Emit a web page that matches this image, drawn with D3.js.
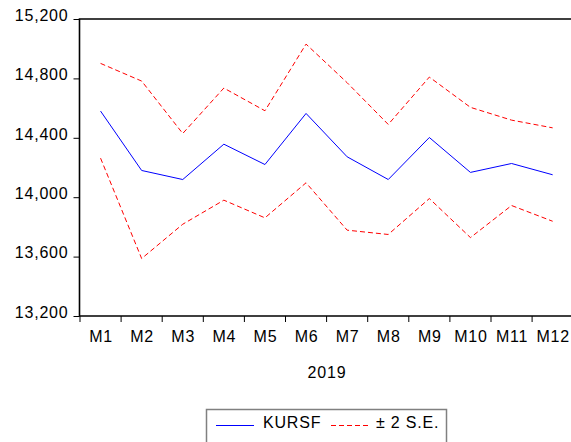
<!DOCTYPE html>
<html><head><meta charset="utf-8">
<script src="https://cdn.jsdelivr.net/npm/d3@7"></script>
<style>
html,body{margin:0;padding:0;background:#fff;}
text{font-family:"Liberation Sans",Arial,sans-serif;font-size:16px;fill:#000;letter-spacing:0.8px;}
</style></head>
<body><svg id="c" width="571" height="442"></svg>
<script>
const months = ["M1","M2","M3","M4","M5","M6","M7","M8","M9","M10","M11","M12"];
const forecast = [14580,14180,14119,14357,14220,14564,14272,14119,14402,14167,14227,14151];
const upper = [14901,14782,14429,14735,14582,15031,14771,14490,14809,14605,14519,14467];
const lower = [14263,13587,13818,13980,13861,14097,13778,13749,13991,13728,13944,13838];
const yTicks = [13200,13600,14000,14400,14800,15200];
const yearLabel = "2019";
const legendLabels = ["KURSF","± 2 S.E."];

const svg = d3.select("#c");
const L = 79.5, R = 573.5, T = 19, B = 316;
const x = d3.scaleBand().domain(months).range([80, 573.2]);
const y = d3.scaleLinear().domain([13200,15200]).range([B, T]);
const fmt = d3.format(",");

// y axis
const ya = svg.append("g").attr("transform",`translate(${L},0)`)
  .call(d3.axisLeft(y).tickValues(yTicks).tickSize(6).tickFormat(fmt));
ya.select(".domain").remove();
ya.selectAll(".tick line").attr("stroke","#000").attr("stroke-width",1);
ya.selectAll(".tick text").attr("x",-11).attr("dy","0.08em").attr("font-size",null).attr("font-family",null);
ya.attr("font-size",null).attr("font-family",null);

// x axis ticks at band boundaries
const xa = svg.append("g").attr("transform",`translate(0,${B})`);
const bounds = months.map(m => x(m));
xa.selectAll("line.t").data(bounds).enter().append("line")
  .attr("x1",d=>d).attr("x2",d=>d).attr("y1",0).attr("y2",6)
  .attr("stroke","#000").attr("stroke-width",1);
xa.selectAll("text").data(months).enter().append("text")
  .attr("x",d=>x(d)+x.bandwidth()/2+0.5).attr("y",26)
  .attr("text-anchor","middle").text(d=>d);

svg.append("text").attr("x",(80+573)/2+0.5).attr("y",378)
  .attr("text-anchor","middle").text(yearLabel);

// frame
svg.append("path").attr("d",`M${R},${T}H${L}V${B}H${R}`)
  .attr("fill","none").attr("stroke","#000").attr("stroke-width",1.6);

const cx = d => x(d)+x.bandwidth()/2;
const line = d3.line().x((d,i)=>cx(months[i])).y(d=>y(d));
svg.append("path").datum(upper).attr("d",line).attr("fill","none")
  .attr("stroke","#ff0000").attr("stroke-width",1).attr("stroke-dasharray","5,3");
svg.append("path").datum(lower).attr("d",line).attr("fill","none")
  .attr("stroke","#ff0000").attr("stroke-width",1).attr("stroke-dasharray","5,3");
svg.append("path").datum(forecast).attr("d",line).attr("fill","none")
  .attr("stroke","#0000ff").attr("stroke-width",1);

// legend
const lg = svg.append("g");
lg.append("rect").attr("x",206.5).attr("y",409.5).attr("width",240).attr("height",40)
  .attr("fill","#fff").attr("stroke","#808080").attr("stroke-width",1.5);
lg.append("line").attr("x1",216).attr("x2",254).attr("y1",425.5).attr("y2",425.5)
  .attr("stroke","#0000ff").attr("stroke-width",1);
lg.append("text").attr("x",263).attr("y",428).text(legendLabels[0]);
lg.append("line").attr("x1",331).attr("x2",369).attr("y1",425.5).attr("y2",425.5)
  .attr("stroke","#ff0000").attr("stroke-width",1).attr("stroke-dasharray","5,3");
lg.append("text").attr("x",376).attr("y",428).text(legendLabels[1]);
</script></body></html>
